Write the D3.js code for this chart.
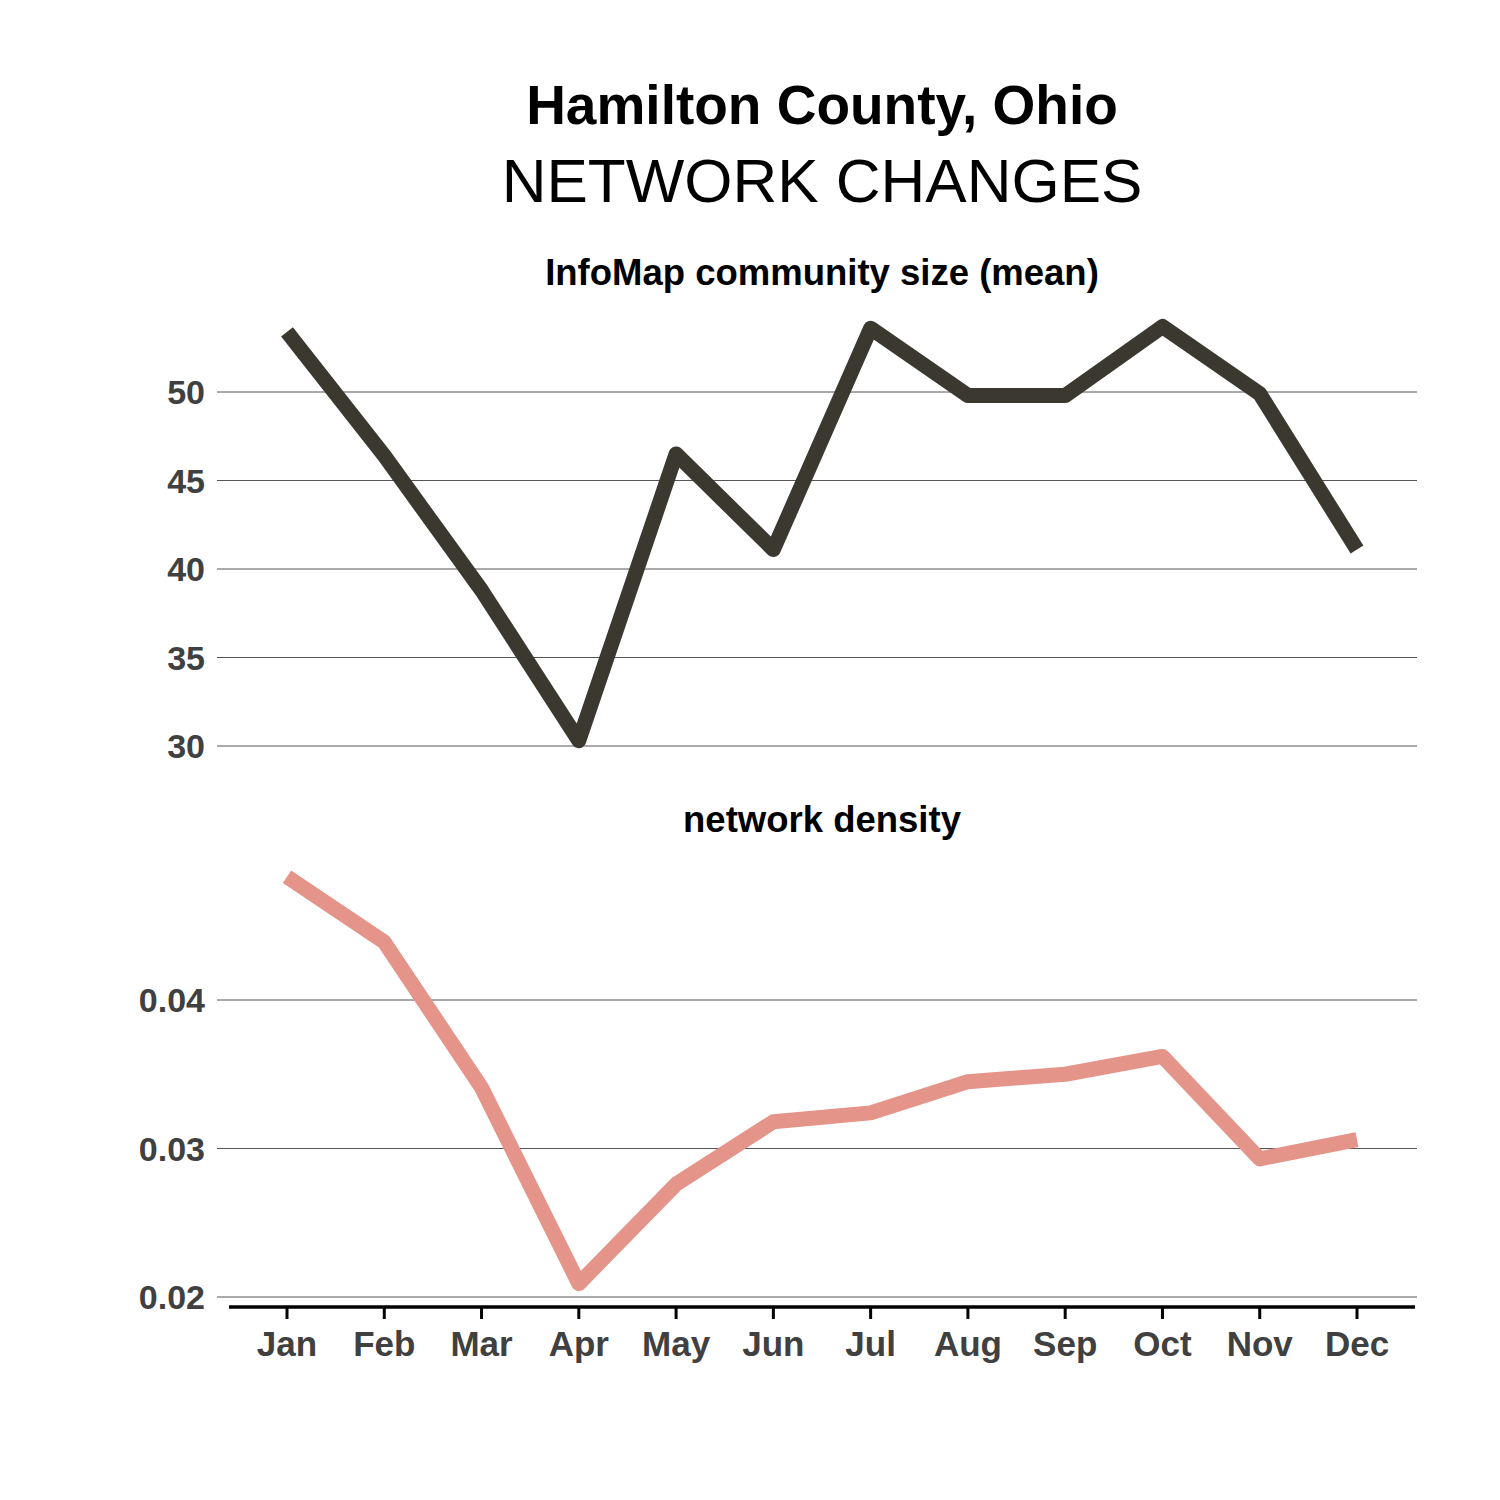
<!DOCTYPE html>
<html>
<head>
<meta charset="utf-8">
<script src="https://cdn.jsdelivr.net/npm/d3@7"></script>
<style>
  body { margin: 0; background: #fff; }
  text { font-family: "Liberation Sans", Arial, sans-serif; }
</style>
</head>
<body>
<div id="chart"></div>
<script>
// data
var months = ["Jan", "Feb", "Mar", "Apr", "May", "Jun", "Jul", "Aug", "Sep", "Oct", "Nov", "Dec"];
var community_size = [53.4, 46.4, 38.8, 30.3, 46.5, 41.1, 53.6, 49.8, 49.8, 53.7, 49.9, 41.1];
var density = [0.0483, 0.0439, 0.0341, 0.0209, 0.0276, 0.0318, 0.0324, 0.0345, 0.0350, 0.0362, 0.0293, 0.0306];
var size_ticks = [30, 35, 40, 45, 50];
var density_ticks = [0.02, 0.03, 0.04];

var W = 1500, H = 1500;
var plotLeft = 217, plotRight = 1417;

var svg = d3.select("#chart")
    .append("svg")
    .attr("width", W)
    .attr("height", H);

// titles
svg.append("text")
    .attr("x", 822).attr("y", 124)
    .attr("text-anchor", "middle")
    .style("font-size", "55px").style("font-weight", "bold")
    .text("Hamilton County, Ohio");
svg.append("text")
    .attr("x", 822).attr("y", 202)
    .attr("text-anchor", "middle")
    .style("font-size", "62px")
    .text("NETWORK CHANGES");

var x = d3.scalePoint()
    .domain(months)
    .range([287, 1357]);

function panel(values, ticks, y, color, title, titleY, fmt) {
    var g = svg.append("g");

    g.append("text")
        .attr("x", 822).attr("y", titleY)
        .attr("text-anchor", "middle")
        .style("font-size", "36.5px").style("font-weight", "bold")
        .text(title);

    // gridlines
    g.selectAll(".grid")
        .data(ticks)
        .enter().append("line")
        .attr("x1", plotLeft).attr("x2", plotRight)
        .attr("y1", function (d) { return y(d); })
        .attr("y2", function (d) { return y(d); })
        .attr("stroke", "#555")
        .attr("stroke-width", 1);

    // tick labels
    g.selectAll(".lab")
        .data(ticks)
        .enter().append("text")
        .attr("x", 205)
        .attr("y", function (d) { return y(d); })
        .attr("dy", "0.36em")
        .attr("text-anchor", "end")
        .style("font-size", "34px").style("font-weight", "bold")
        .attr("fill", "#404040")
        .text(fmt);

    g.append("path")
        .datum(values)
        .attr("fill", "none")
        .attr("stroke", color)
        .attr("stroke-width", 15)
        .attr("stroke-linejoin", "round")
        .attr("d", d3.line()
            .x(function (d, i) { return x(months[i]); })
            .y(function (d) { return y(d); })
        );
}

var ySize = d3.scaleLinear().domain([30, 50]).range([746, 392]);
var yDens = d3.scaleLinear().domain([0.02, 0.04]).range([1297, 1000]);

panel(community_size, size_ticks, ySize, "#3b3830", "InfoMap community size (mean)", 285, function (d) { return d; });
panel(density, density_ticks, yDens, "#e5948a", "network density", 832, d3.format(".2f"));

// bottom axis
var xAxis = svg.append("g")
    .attr("transform", "translate(0,1307)");
xAxis.append("line")
    .attr("x1", 229).attr("x2", 1415)
    .attr("stroke", "#000").attr("stroke-width", 3.5);
xAxis.selectAll(".tick")
    .data(months)
    .enter().append("line")
    .attr("x1", function (d) { return x(d); })
    .attr("x2", function (d) { return x(d); })
    .attr("y1", 0).attr("y2", 12)
    .attr("stroke", "#000").attr("stroke-width", 3);
xAxis.selectAll(".mlab")
    .data(months)
    .enter().append("text")
    .attr("x", function (d) { return x(d); })
    .attr("y", 49)
    .attr("text-anchor", "middle")
    .style("font-size", "35px").style("font-weight", "bold")
    .attr("fill", "#404040")
    .text(function (d) { return d; });
</script>
</body>
</html>
